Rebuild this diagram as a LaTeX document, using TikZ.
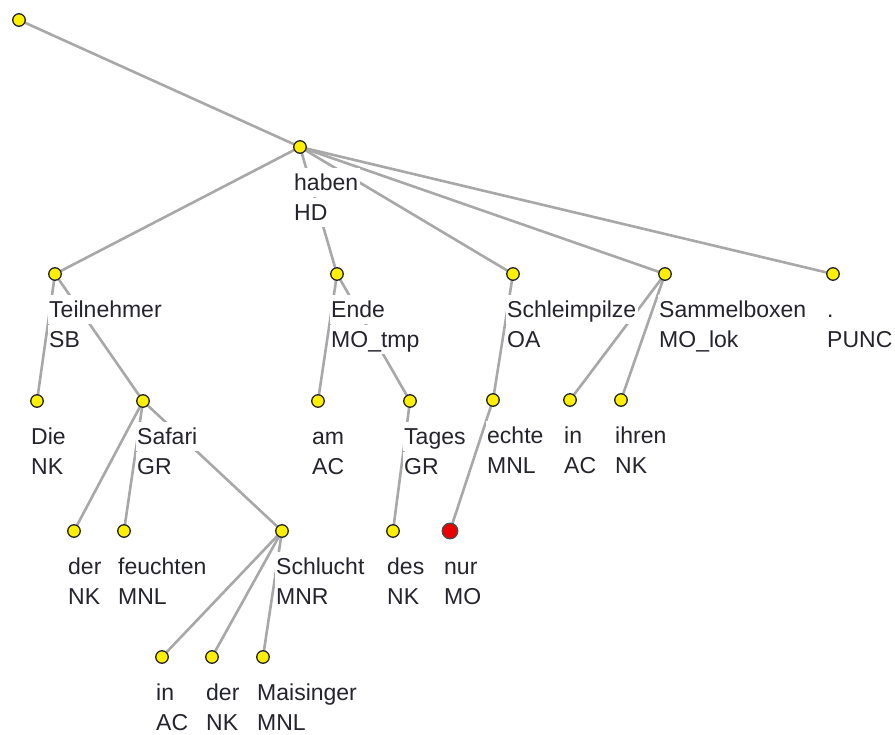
\documentclass[tikz,border=0pt]{standalone}
\usepackage{fontspec}
\setmainfont{Liberation Sans}
\usetikzlibrary{shapes.geometric}
\pgfdeclarelayer{back}
\pgfdeclarelayer{bg}
\pgfsetlayers{back,bg,main}
\definecolor{edgegray}{RGB}{168,168,168}
\definecolor{txt}{RGB}{36,36,44}
\definecolor{nodeyellow}{RGB}{255,240,0}
\definecolor{nodered}{RGB}{235,0,0}
% label of tree node #1: word #2, function tag #3 (one white box per line)
\newcommand\treelabel[3]{%
  \node[tlab] (#1-w) at ([xshift=-7.5pt,yshift=-43.5pt]#1.center) {#2};
  \node[tlab] (#1-t) at ([xshift=-7.5pt,yshift=-73.5pt]#1.center) {#3};}
\begin{document}
\begin{tikzpicture}[x=1pt,y=-1pt,
  tnode/.style={circle,draw=black!85,line width=1.3pt,fill=nodeyellow,minimum size=12.5pt,inner sep=0pt},
  rnode/.style={circle,draw=black!70,line width=1.3pt,fill=nodered,minimum size=15.5pt,inner sep=0pt},
  tlab/.style={anchor=base west,fill=white,inner sep=1.5pt,text height=21pt,text depth=5.5pt,
    text=txt,font=\fontsize{23}{30}\selectfont},
  edge/.style={draw=edgegray,line width=2.6pt}]
\begin{pgfonlayer}{back}
\fill[white] (0,0) rectangle (895,735);
\end{pgfonlayer}
\useasboundingbox (0,0) rectangle (895,735);
% tree nodes
\node[tnode] (root) at (19,20) {};
\node[tnode] (s) at (300,147) {};
\node[tnode] (teil) at (55,274) {};
\node[tnode] (ende) at (337,274) {};
\node[tnode] (schl) at (513,274) {};
\node[tnode] (samm) at (665,274) {};
\node[tnode] (punc) at (833,274) {};
\node[tnode] (die) at (37,401) {};
\node[tnode] (safari) at (143,401) {};
\node[tnode] (am) at (318,401) {};
\node[tnode] (tages) at (410,401) {};
\node[tnode] (echte) at (493,400) {};
\node[tnode] (inA) at (570,400) {};
\node[tnode] (ihren) at (621,400) {};
\node[tnode] (derA) at (74,531) {};
\node[tnode] (feucht) at (124,531) {};
\node[tnode] (schlucht) at (282,531) {};
\node[tnode] (des) at (393,531) {};
\node[rnode] (nur) at (450,531) {};
\node[tnode] (inB) at (162,657) {};
\node[tnode] (derB) at (212,657) {};
\node[tnode] (mais) at (263,657) {};
% labels
\treelabel{s}{haben}{HD}
\treelabel{teil}{Teilnehmer}{SB}
\treelabel{ende}{Ende}{MO\_tmp}
\treelabel{schl}{Schleimpilze}{OA}
\treelabel{samm}{Sammelboxen}{MO\_lok}
\treelabel{punc}{.}{PUNC}
\treelabel{die}{Die}{NK}
\treelabel{safari}{Safari}{GR}
\treelabel{am}{am}{AC}
\treelabel{tages}{Tages}{GR}
\treelabel{echte}{echte}{MNL}
\treelabel{inA}{in}{AC}
\treelabel{ihren}{ihren}{NK}
\treelabel{derA}{der}{NK}
\treelabel{feucht}{feuchten}{MNL}
\treelabel{schlucht}{Schlucht}{MNR}
\treelabel{des}{des}{NK}
\treelabel{nur}{nur}{MO}
\treelabel{inB}{in}{AC}
\treelabel{derB}{der}{NK}
\treelabel{mais}{Maisinger}{MNL}
% edges
\begin{pgfonlayer}{bg}
\foreach \a/\b in {root/s, s/teil, s/ende, s/schl, s/samm, s/punc,
  teil/die, teil/safari, safari/derA, safari/feucht, safari/schlucht,
  schlucht/inB, schlucht/derB, schlucht/mais,
  ende/am, ende/tages, tages/des,
  schl/echte, echte/nur, samm/inA, samm/ihren}
  \draw[edge] (\a.center) -- (\b.center);
\end{pgfonlayer}
\end{tikzpicture}
\end{document}
